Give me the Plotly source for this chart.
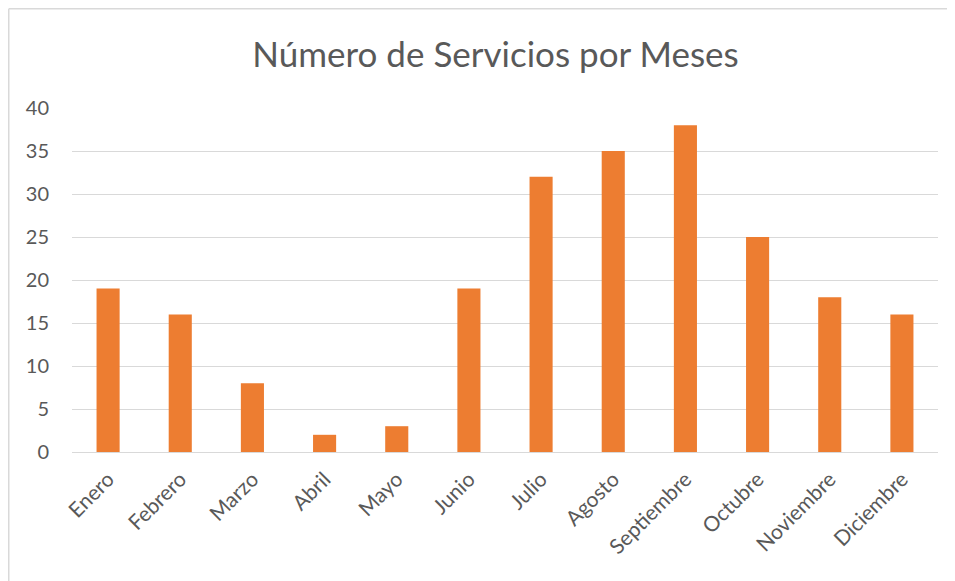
import plotly.graph_objects as go

months = ["Enero", "Febrero", "Marzo", "Abril", "Mayo", "Junio", "Julio",
          "Agosto", "Septiembre", "Octubre", "Noviembre", "Diciembre"]
servicios = [19, 16, 8, 2, 3, 19, 32, 35, 38, 25, 18, 16]
y_ticks = [0, 5, 10, 15, 20, 25, 30, 35, 40]

FONT = "Lato, Open Sans, sans-serif"
GREY = "#595959"
BORDER = "#D9D9D9"

fig = go.Figure(go.Bar(x=months, y=servicios, marker_color="#ED7D31",
                       marker_line_width=0))

W, H = 947, 573
L, R, T, B = 64, 17, 100, 129
pw, ph = W - L - R, H - T - B

xl = (0.75 - L) / pw          # left edge of figure in paper units
xr = (W - L) / pw             # right edge
yt = (H - B - 0.75) / ph      # top edge
yb = -B / ph                  # bottom edge

fig.update_layout(
    width=W, height=H,
    margin=dict(l=L, r=R, t=T, b=B),
    paper_bgcolor="white", plot_bgcolor="white",
    bargap=0.68,
    showlegend=False,
    font=dict(family=FONT, color=GREY, size=20),
    title=dict(text="Número de Servicios por Meses", x=487.5 / W, xanchor="center",
               y=1 - 47 / H, yanchor="middle", yref="container",
               font=dict(size=35, color=GREY, family=FONT)),
    xaxis=dict(tickangle=-45, showgrid=False, showline=False, ticks="",
               ticklabelstandoff=10,
               tickfont=dict(size=21, color=GREY)),
    yaxis=dict(range=[0, 40], tickvals=y_ticks, showgrid=True,
               gridcolor=BORDER, gridwidth=1, zeroline=True,
               zerolinecolor=BORDER, zerolinewidth=1, showline=False,
               ticks="", ticklabelstandoff=22,
               tickfont=dict(size=20, color=GREY)),
    shapes=[
        dict(type="line", xref="paper", yref="paper", x0=xl, x1=xr,
             y0=yt, y1=yt, line=dict(color=BORDER, width=1.5), layer="below"),
        dict(type="line", xref="paper", yref="paper", x0=xl, x1=xl,
             y0=yt, y1=yb, line=dict(color=BORDER, width=1.5), layer="below"),
    ],
)

fig.write_html("out.html")
